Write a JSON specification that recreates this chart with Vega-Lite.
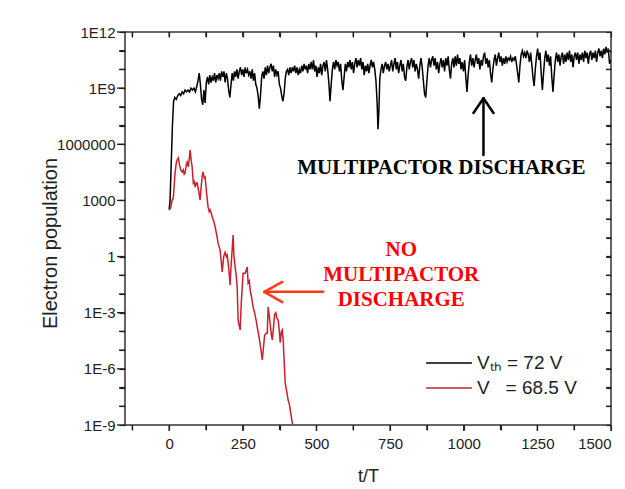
{
  "$schema": "https://vega.github.io/schema/vega-lite/v6.json",
  "width": 486,
  "height": 393,
  "autosize": {"type": "none"},
  "padding": {"left": 125, "top": 32, "right": 14, "bottom": 64},
  "background": "white",
  "config": {
    "font": "Liberation Sans",
    "view": {"stroke": "#333333", "strokeWidth": 1.5},
    "axis": {"domain": false, "grid": false, "ticks": true, "tickColor": "#333333", "tickOpacity": 1, "tickWidth": 1.2, "zindex": 2, "labelColor": "#222222", "labelFontSize": 15, "titleColor": "#222222", "titleFontWeight": "normal"}
  },
  "datasets": {
    "lines": [
      {"s":"th","t":0,"n":320},{"s":"th","t":3,"n":1000},{"s":"th","t":7,"n":1e5},{"s":"th","t":11,"n":1e7},{"s":"th","t":15,"n":2e8},{"s":"th","t":19,"n":3.2e8},{"s":"th","t":24,"n":2.5e8},{"s":"th","t":29,"n":4e8},{"s":"th","t":34,"n":5e8},{"s":"th","t":39,"n":4e8},{"s":"th","t":44,"n":6.3e8},{"s":"th","t":49,"n":5e8},{"s":"th","t":54,"n":7.9e8},{"s":"th","t":59,"n":6.3e8},{"s":"th","t":64,"n":7.9e8},{"s":"th","t":69,"n":6.3e8},{"s":"th","t":74,"n":1e9},{"s":"th","t":79,"n":7.9e8},{"s":"th","t":84,"n":1e9},{"s":"th","t":89,"n":6.3e8},{"s":"th","t":94,"n":1.3e9},{"s":"th","t":98,"n":2.5e9},
      {"s":"th","t":102,"n":6.3e9},{"s":"th","t":106,"n":1.6e9},{"s":"th","t":110,"n":2.5e8},{"s":"th","t":114,"n":1.3e8},{"s":"th","t":118,"n":7.9e8},{"s":"th","t":122,"n":1.6e8},{"s":"th","t":126,"n":2e9},{"s":"th","t":130,"n":4e9},{"s":"th","t":134,"n":1.6e9},{"s":"th","t":138,"n":5e9},{"s":"th","t":142,"n":2e9},{"s":"th","t":146,"n":4e9},{"s":"th","t":150,"n":2.5e9},{"s":"th","t":154,"n":6.3e9},{"s":"th","t":158,"n":2e9},{"s":"th","t":162,"n":5e9},{"s":"th","t":166,"n":3.2e9},{"s":"th","t":170,"n":6.3e9},{"s":"th","t":174,"n":2.5e9},{"s":"th","t":178,"n":7.9e9},{"s":"th","t":182,"n":4e9},{"s":"th","t":186,"n":7.9e9},{"s":"th","t":190,"n":2e9},{"s":"th","t":194,"n":6.3e9},{"s":"th","t":198,"n":3.2e9},
      {"s":"th","t":202,"n":7.9e8},{"s":"th","t":206,"n":3.2e8},{"s":"th","t":210,"n":1.6e9},{"s":"th","t":214,"n":6.3e9},{"s":"th","t":218,"n":2.5e9},{"s":"th","t":222,"n":7.9e9},{"s":"th","t":226,"n":4e9},{"s":"th","t":230,"n":1e10},{"s":"th","t":234,"n":3.2e9},{"s":"th","t":238,"n":7.9e9},{"s":"th","t":242,"n":1.3e10},{"s":"th","t":246,"n":5e9},{"s":"th","t":250,"n":1e10},{"s":"th","t":254,"n":4e9},{"s":"th","t":258,"n":1.3e10},{"s":"th","t":262,"n":6.3e9},{"s":"th","t":266,"n":1e10},{"s":"th","t":270,"n":5e9},{"s":"th","t":274,"n":7.9e9},{"s":"th","t":278,"n":3.2e9},{"s":"th","t":282,"n":1e10},{"s":"th","t":286,"n":2.5e9},{"s":"th","t":290,"n":6.3e9},{"s":"th","t":294,"n":1.6e9},{"s":"th","t":298,"n":1e9},
      {"s":"th","t":302,"n":4e8},{"s":"th","t":306,"n":7.9e7},{"s":"th","t":310,"n":4e8},{"s":"th","t":314,"n":4e9},{"s":"th","t":318,"n":7.9e9},{"s":"th","t":322,"n":3.2e9},{"s":"th","t":326,"n":1.3e10},{"s":"th","t":330,"n":5e9},{"s":"th","t":334,"n":1.6e10},{"s":"th","t":338,"n":6.3e9},{"s":"th","t":342,"n":1.3e10},{"s":"th","t":346,"n":2e10},{"s":"th","t":350,"n":7.9e9},{"s":"th","t":354,"n":1.6e10},{"s":"th","t":358,"n":4e9},{"s":"th","t":362,"n":1e10},{"s":"th","t":366,"n":5e9},{"s":"th","t":370,"n":7.9e9},{"s":"th","t":374,"n":1.6e9},{"s":"th","t":378,"n":1e9},{"s":"th","t":382,"n":4e8},{"s":"th","t":386,"n":2e8},{"s":"th","t":390,"n":5e8},{"s":"th","t":394,"n":3.2e9},{"s":"th","t":398,"n":7.9e9},
      {"s":"th","t":402,"n":1e10},{"s":"th","t":406,"n":5e9},{"s":"th","t":410,"n":1.3e10},{"s":"th","t":414,"n":6.3e9},{"s":"th","t":418,"n":1.3e10},{"s":"th","t":422,"n":7.9e9},{"s":"th","t":426,"n":1.6e10},{"s":"th","t":430,"n":6.3e9},{"s":"th","t":434,"n":1.3e10},{"s":"th","t":438,"n":5e9},{"s":"th","t":442,"n":1e10},{"s":"th","t":446,"n":6.3e9},{"s":"th","t":450,"n":1.6e10},{"s":"th","t":454,"n":7.9e9},{"s":"th","t":458,"n":2e10},{"s":"th","t":462,"n":1e10},{"s":"th","t":466,"n":1.6e10},{"s":"th","t":470,"n":6.3e9},{"s":"th","t":474,"n":2e10},{"s":"th","t":478,"n":1e10},{"s":"th","t":482,"n":2.5e10},{"s":"th","t":486,"n":1e10},{"s":"th","t":490,"n":3.2e10},{"s":"th","t":494,"n":7.9e9},{"s":"th","t":498,"n":1.6e10},
      {"s":"th","t":502,"n":4e9},{"s":"th","t":506,"n":1.3e10},{"s":"th","t":510,"n":6.3e9},{"s":"th","t":514,"n":2e10},{"s":"th","t":518,"n":5e9},{"s":"th","t":522,"n":1.6e10},{"s":"th","t":526,"n":2.5e10},{"s":"th","t":530,"n":7.9e9},{"s":"th","t":534,"n":3.2e10},{"s":"th","t":538,"n":1e10},{"s":"th","t":542,"n":2e9},{"s":"th","t":546,"n":2e8},{"s":"th","t":550,"n":1.6e9},{"s":"th","t":554,"n":1e10},{"s":"th","t":558,"n":2.5e10},{"s":"th","t":562,"n":1e10},{"s":"th","t":566,"n":3.2e10},{"s":"th","t":570,"n":1.6e10},{"s":"th","t":574,"n":2.5e10},{"s":"th","t":578,"n":7.9e9},{"s":"th","t":582,"n":2e10},{"s":"th","t":586,"n":2.5e9},{"s":"th","t":590,"n":7.9e8},{"s":"th","t":594,"n":4e9},{"s":"th","t":598,"n":2e10},
      {"s":"th","t":602,"n":7.9e9},{"s":"th","t":606,"n":2.5e10},{"s":"th","t":610,"n":1.3e10},{"s":"th","t":614,"n":3.2e10},{"s":"th","t":618,"n":1e10},{"s":"th","t":622,"n":2.5e10},{"s":"th","t":626,"n":6.3e9},{"s":"th","t":630,"n":2e10},{"s":"th","t":634,"n":4e10},{"s":"th","t":638,"n":1.3e10},{"s":"th","t":642,"n":3.2e10},{"s":"th","t":646,"n":1.6e10},{"s":"th","t":650,"n":4e10},{"s":"th","t":654,"n":1e10},{"s":"th","t":658,"n":2.5e10},{"s":"th","t":662,"n":5e9},{"s":"th","t":666,"n":1.6e10},{"s":"th","t":670,"n":7.9e9},{"s":"th","t":674,"n":2e10},{"s":"th","t":678,"n":6.3e9},{"s":"th","t":682,"n":1.6e10},{"s":"th","t":686,"n":3.2e10},{"s":"th","t":690,"n":1.3e10},{"s":"th","t":694,"n":2.5e10},{"s":"th","t":698,"n":1e10},
      {"s":"th","t":702,"n":2.5e9},{"s":"th","t":706,"n":1.6e8},{"s":"th","t":709,"n":6.3e6},{"s":"th","t":712,"n":6.3e7},{"s":"th","t":715,"n":3.2e9},{"s":"th","t":719,"n":1e10},{"s":"th","t":723,"n":2e10},{"s":"th","t":727,"n":6.3e9},{"s":"th","t":731,"n":1.6e10},{"s":"th","t":735,"n":2.5e10},{"s":"th","t":739,"n":1e10},{"s":"th","t":743,"n":2e10},{"s":"th","t":747,"n":7.9e9},{"s":"th","t":751,"n":1.6e10},{"s":"th","t":755,"n":3.2e10},{"s":"th","t":759,"n":7.9e9},{"s":"th","t":763,"n":2e10},{"s":"th","t":767,"n":4e10},{"s":"th","t":771,"n":1e10},{"s":"th","t":775,"n":2.5e10},{"s":"th","t":779,"n":6.3e9},{"s":"th","t":783,"n":1.6e10},{"s":"th","t":787,"n":3.2e10},{"s":"th","t":791,"n":7.9e9},{"s":"th","t":795,"n":2e10},{"s":"th","t":799,"n":4e9},
      {"s":"th","t":803,"n":2.5e9},{"s":"th","t":807,"n":1.3e10},{"s":"th","t":811,"n":3.2e10},{"s":"th","t":815,"n":1e10},{"s":"th","t":819,"n":2.5e10},{"s":"th","t":823,"n":4e10},{"s":"th","t":827,"n":1.3e10},{"s":"th","t":831,"n":3.2e10},{"s":"th","t":835,"n":7.9e9},{"s":"th","t":839,"n":2e10},{"s":"th","t":843,"n":1e10},{"s":"th","t":847,"n":3.2e9},{"s":"th","t":851,"n":1.6e10},{"s":"th","t":855,"n":4e10},{"s":"th","t":859,"n":1.3e10},{"s":"th","t":863,"n":2.5e9},{"s":"th","t":867,"n":5e8},{"s":"th","t":871,"n":3.2e8},{"s":"th","t":875,"n":2.5e9},{"s":"th","t":879,"n":1.6e10},{"s":"th","t":883,"n":4e10},{"s":"th","t":887,"n":1.3e10},{"s":"th","t":891,"n":3.2e10},{"s":"th","t":895,"n":5e10},{"s":"th","t":899,"n":1.6e10},
      {"s":"th","t":903,"n":4e10},{"s":"th","t":907,"n":1e10},{"s":"th","t":911,"n":2.5e10},{"s":"th","t":915,"n":6.3e9},{"s":"th","t":919,"n":2e10},{"s":"th","t":923,"n":4e10},{"s":"th","t":927,"n":1.3e10},{"s":"th","t":931,"n":3.2e10},{"s":"th","t":935,"n":7.9e9},{"s":"th","t":939,"n":4e10},{"s":"th","t":943,"n":1.6e10},{"s":"th","t":947,"n":5e10},{"s":"th","t":951,"n":1e10},{"s":"th","t":955,"n":3.2e9},{"s":"th","t":959,"n":2e10},{"s":"th","t":963,"n":4e10},{"s":"th","t":967,"n":1.3e10},{"s":"th","t":971,"n":5e10},{"s":"th","t":975,"n":1.6e10},{"s":"th","t":979,"n":6.3e10},{"s":"th","t":983,"n":2e10},{"s":"th","t":987,"n":4e10},{"s":"th","t":991,"n":1e10},{"s":"th","t":995,"n":2.5e10},{"s":"th","t":999,"n":7.9e9},
      {"s":"th","t":1003,"n":3.2e10},{"s":"th","t":1007,"n":4e9},{"s":"th","t":1011,"n":6.3e8},{"s":"th","t":1015,"n":5e9},{"s":"th","t":1019,"n":2.5e10},{"s":"th","t":1023,"n":6.3e10},{"s":"th","t":1027,"n":1.6e10},{"s":"th","t":1031,"n":4e10},{"s":"th","t":1035,"n":1.3e10},{"s":"th","t":1039,"n":3.2e10},{"s":"th","t":1043,"n":6.3e10},{"s":"th","t":1047,"n":2e10},{"s":"th","t":1051,"n":4e10},{"s":"th","t":1055,"n":1e10},{"s":"th","t":1059,"n":3.2e10},{"s":"th","t":1063,"n":1.6e10},{"s":"th","t":1067,"n":5e10},{"s":"th","t":1071,"n":7.9e10},{"s":"th","t":1075,"n":2e10},{"s":"th","t":1079,"n":4e10},{"s":"th","t":1083,"n":1.3e10},{"s":"th","t":1087,"n":3.2e10},{"s":"th","t":1091,"n":6.3e9},{"s":"th","t":1095,"n":2e9},{"s":"th","t":1099,"n":1e10},
      {"s":"th","t":1103,"n":3.2e10},{"s":"th","t":1107,"n":6.3e10},{"s":"th","t":1111,"n":1.6e10},{"s":"th","t":1115,"n":4e10},{"s":"th","t":1119,"n":7.9e10},{"s":"th","t":1123,"n":2.5e10},{"s":"th","t":1127,"n":5e10},{"s":"th","t":1131,"n":1.6e10},{"s":"th","t":1135,"n":4e10},{"s":"th","t":1139,"n":2e10},{"s":"th","t":1143,"n":5e10},{"s":"th","t":1147,"n":2.5e10},{"s":"th","t":1151,"n":4e10},{"s":"th","t":1155,"n":3.2e10},{"s":"th","t":1159,"n":5e10},{"s":"th","t":1163,"n":2.5e10},{"s":"th","t":1167,"n":4e10},{"s":"th","t":1171,"n":3.2e10},{"s":"th","t":1175,"n":5e10},{"s":"th","t":1179,"n":2e10},{"s":"th","t":1183,"n":6.3e9},{"s":"th","t":1187,"n":2e9},{"s":"th","t":1191,"n":1.6e10},{"s":"th","t":1195,"n":6.3e10},{"s":"th","t":1199,"n":1e11},
      {"s":"th","t":1203,"n":5e10},{"s":"th","t":1207,"n":7.9e10},{"s":"th","t":1211,"n":4e10},{"s":"th","t":1215,"n":1e11},{"s":"th","t":1219,"n":6.3e10},{"s":"th","t":1223,"n":2.5e10},{"s":"th","t":1227,"n":7.9e10},{"s":"th","t":1231,"n":2e10},{"s":"th","t":1235,"n":4e9},{"s":"th","t":1239,"n":1.3e9},{"s":"th","t":1243,"n":1e10},{"s":"th","t":1247,"n":5e10},{"s":"th","t":1251,"n":1.3e11},{"s":"th","t":1255,"n":3.2e10},{"s":"th","t":1259,"n":7.9e10},{"s":"th","t":1263,"n":6.3e9},{"s":"th","t":1267,"n":7.9e8},{"s":"th","t":1271,"n":6.3e9},{"s":"th","t":1275,"n":4e10},{"s":"th","t":1279,"n":1e11},{"s":"th","t":1283,"n":2.5e10},{"s":"th","t":1287,"n":6.3e10},{"s":"th","t":1291,"n":1.6e10},{"s":"th","t":1295,"n":5e10},{"s":"th","t":1299,"n":4e9},
      {"s":"th","t":1303,"n":6.3e8},{"s":"th","t":1307,"n":5e9},{"s":"th","t":1311,"n":3.2e10},{"s":"th","t":1315,"n":7.9e10},{"s":"th","t":1319,"n":2.5e10},{"s":"th","t":1323,"n":6.3e10},{"s":"th","t":1327,"n":1.6e10},{"s":"th","t":1331,"n":5e10},{"s":"th","t":1335,"n":7.9e10},{"s":"th","t":1339,"n":2e10},{"s":"th","t":1343,"n":6.3e10},{"s":"th","t":1347,"n":2.5e10},{"s":"th","t":1351,"n":7.9e10},{"s":"th","t":1355,"n":3.2e10},{"s":"th","t":1359,"n":1e11},{"s":"th","t":1363,"n":2.5e10},{"s":"th","t":1367,"n":6.3e10},{"s":"th","t":1371,"n":1.3e10},{"s":"th","t":1375,"n":5e10},{"s":"th","t":1379,"n":7.9e10},{"s":"th","t":1383,"n":3.2e10},{"s":"th","t":1387,"n":7.9e10},{"s":"th","t":1391,"n":2e10},{"s":"th","t":1395,"n":6.3e10},{"s":"th","t":1399,"n":3.2e10},
      {"s":"th","t":1403,"n":7.9e10},{"s":"th","t":1407,"n":2.5e10},{"s":"th","t":1411,"n":1e11},{"s":"th","t":1415,"n":4e10},{"s":"th","t":1419,"n":7.9e10},{"s":"th","t":1423,"n":2e10},{"s":"th","t":1427,"n":6.3e10},{"s":"th","t":1431,"n":1e11},{"s":"th","t":1435,"n":3.2e10},{"s":"th","t":1439,"n":7.9e10},{"s":"th","t":1443,"n":4e10},{"s":"th","t":1447,"n":1e11},{"s":"th","t":1451,"n":2.5e10},{"s":"th","t":1455,"n":7.9e10},{"s":"th","t":1459,"n":1.3e11},{"s":"th","t":1463,"n":5e10},{"s":"th","t":1467,"n":1e11},{"s":"th","t":1471,"n":4e10},{"s":"th","t":1475,"n":1.3e11},{"s":"th","t":1479,"n":6.3e10},{"s":"th","t":1483,"n":1.6e11},{"s":"th","t":1487,"n":7.9e10},{"s":"th","t":1491,"n":1.3e11},{"s":"th","t":1495,"n":2e10},{"s":"th","t":1499,"n":3.2e10},
      {"s":"v","t":0,"n":310},{"s":"v","t":5,"n":400},{"s":"v","t":10,"n":1050},{"s":"v","t":14,"n":1350},{"s":"v","t":17,"n":6300},{"s":"v","t":20,"n":29000},{"s":"v","t":24,"n":100000},{"s":"v","t":27,"n":145000},{"s":"v","t":31,"n":186000},{"s":"v","t":35,"n":79000},{"s":"v","t":40,"n":40000},{"s":"v","t":44,"n":33000},{"s":"v","t":48,"n":43000},{"s":"v","t":51,"n":25000},{"s":"v","t":54,"n":29000},{"s":"v","t":58,"n":79000},{"s":"v","t":61,"n":112000},{"s":"v","t":65,"n":62000},{"s":"v","t":68,"n":158000},{"s":"v","t":71,"n":490000},{"s":"v","t":75,"n":126000},{"s":"v","t":78,"n":62000},{"s":"v","t":82,"n":8500},{"s":"v","t":85,"n":10000},{"s":"v","t":88,"n":5200},{"s":"v","t":92,"n":8900},{"s":"v","t":95,"n":8500},
      {"s":"v","t":100,"n":3200},{"s":"v","t":105,"n":1050},{"s":"v","t":108,"n":4000},{"s":"v","t":112,"n":20000},{"s":"v","t":115,"n":33000},{"s":"v","t":119,"n":16000},{"s":"v","t":122,"n":18000},{"s":"v","t":127,"n":2500},{"s":"v","t":132,"n":450},{"s":"v","t":136,"n":250},{"s":"v","t":139,"n":310},{"s":"v","t":143,"n":200},{"s":"v","t":146,"n":130},{"s":"v","t":151,"n":79},{"s":"v","t":156,"n":38},{"s":"v","t":161,"n":16},{"s":"v","t":166,"n":5.2},{"s":"v","t":170,"n":3.2},{"s":"v","t":173,"n":2.2},{"s":"v","t":177,"n":0.5},{"s":"v","t":180,"n":0.15},{"s":"v","t":185,"n":1},{"s":"v","t":190,"n":1.7},{"s":"v","t":194,"n":1},{"s":"v","t":197,"n":1.2},
      {"s":"v","t":202,"n":0.25},{"s":"v","t":207,"n":0.03},{"s":"v","t":210,"n":0.32},{"s":"v","t":214,"n":2.5},{"s":"v","t":217,"n":14},{"s":"v","t":220,"n":1},{"s":"v","t":224,"n":0.28},{"s":"v","t":228,"n":0.08},{"s":"v","t":231,"n":0.023},{"s":"v","t":234,"n":0.00041},{"s":"v","t":238,"n":0.0002},{"s":"v","t":241,"n":0.00012},{"s":"v","t":245,"n":0.004},{"s":"v","t":251,"n":0.13},{"s":"v","t":258,"n":0.13},{"s":"v","t":262,"n":0.2},{"s":"v","t":265,"n":0.28},{"s":"v","t":268,"n":0.039},{"s":"v","t":272,"n":0.05},{"s":"v","t":275,"n":0.016},{"s":"v","t":280,"n":0.0063},{"s":"v","t":285,"n":0.002},{"s":"v","t":290,"n":0.001},{"s":"v","t":295,"n":0.0004},{"s":"v","t":299,"n":0.00017},
      {"s":"v","t":304,"n":6.3e-5},{"s":"v","t":308,"n":2.5e-5},{"s":"v","t":312,"n":1e-5},{"s":"v","t":316,"n":3e-6},{"s":"v","t":320,"n":1.3e-5},{"s":"v","t":324,"n":6.3e-5},{"s":"v","t":329,"n":8e-5},{"s":"v","t":333,"n":8e-5},{"s":"v","t":336,"n":0.002},{"s":"v","t":340,"n":0.00063},{"s":"v","t":343,"n":0.00025},{"s":"v","t":347,"n":6.3e-5},{"s":"v","t":350,"n":3.5e-5},{"s":"v","t":354,"n":0.00016},{"s":"v","t":358,"n":0.0008},{"s":"v","t":362,"n":0.001},{"s":"v","t":366,"n":0.0005},{"s":"v","t":370,"n":0.0004},{"s":"v","t":374,"n":0.0001},{"s":"v","t":377,"n":2.5e-5},{"s":"v","t":381,"n":0.0001},{"s":"v","t":384,"n":0.00012},{"s":"v","t":387,"n":3.5e-5},{"s":"v","t":391,"n":1.6e-6},{"s":"v","t":394,"n":1.7e-7},{"s":"v","t":399,"n":6.3e-8},{"s":"v","t":404,"n":2.1e-8},{"s":"v","t":408,"n":1.3e-8},{"s":"v","t":411,"n":6.3e-9},{"s":"v","t":414,"n":3.2e-9},{"s":"v","t":418,"n":1.3e-9},{"s":"v","t":422,"n":5e-10}
    ],
    "ticks": [
      {"t":-125,"n":1e-9,"t2":-125,"n2":5.4e-10},{"t":0,"n":1e-9,"t2":0,"n2":4.8e-10},{"t":125,"n":1e-9,"t2":125,"n2":5.4e-10},{"t":250,"n":1e-9,"t2":250,"n2":4.8e-10},{"t":375,"n":1e-9,"t2":375,"n2":5.4e-10},{"t":500,"n":1e-9,"t2":500,"n2":4.8e-10},{"t":625,"n":1e-9,"t2":625,"n2":5.4e-10},{"t":750,"n":1e-9,"t2":750,"n2":4.8e-10},{"t":875,"n":1e-9,"t2":875,"n2":5.4e-10},{"t":1000,"n":1e-9,"t2":1000,"n2":4.8e-10},{"t":1125,"n":1e-9,"t2":1125,"n2":5.4e-10},{"t":1250,"n":1e-9,"t2":1250,"n2":4.8e-10},{"t":1375,"n":1e-9,"t2":1375,"n2":5.4e-10},{"t":1500,"n":1e-9,"t2":1500,"n2":4.8e-10},
      {"t":-150,"n":1e-9,"t2":-177,"n2":1e-9},{"t":-150,"n":1e-8,"t2":-170,"n2":1e-8},{"t":-150,"n":1e-7,"t2":-170,"n2":1e-7},{"t":-150,"n":1e-6,"t2":-177,"n2":1e-6},{"t":-150,"n":1e-5,"t2":-170,"n2":1e-5},{"t":-150,"n":1e-4,"t2":-170,"n2":1e-4},{"t":-150,"n":0.001,"t2":-177,"n2":0.001},{"t":-150,"n":0.01,"t2":-170,"n2":0.01},{"t":-150,"n":0.1,"t2":-170,"n2":0.1},{"t":-150,"n":1,"t2":-177,"n2":1},{"t":-150,"n":10,"t2":-170,"n2":10},{"t":-150,"n":100,"t2":-170,"n2":100},{"t":-150,"n":1000,"t2":-177,"n2":1000},{"t":-150,"n":10000,"t2":-170,"n2":10000},{"t":-150,"n":100000,"t2":-170,"n2":100000},{"t":-150,"n":1e6,"t2":-177,"n2":1e6},{"t":-150,"n":1e7,"t2":-170,"n2":1e7},{"t":-150,"n":1e8,"t2":-170,"n2":1e8},{"t":-150,"n":1e9,"t2":-177,"n2":1e9},{"t":-150,"n":1e10,"t2":-170,"n2":1e10},{"t":-150,"n":1e11,"t2":-170,"n2":1e11},{"t":-150,"n":1e12,"t2":-177,"n2":1e12},
      {"t":-125,"n":1e12,"t2":-125,"n2":5.4e11},{"t":0,"n":1e12,"t2":0,"n2":5.4e11},{"t":125,"n":1e12,"t2":125,"n2":5.4e11},{"t":250,"n":1e12,"t2":250,"n2":5.4e11},{"t":375,"n":1e12,"t2":375,"n2":5.4e11},{"t":500,"n":1e12,"t2":500,"n2":5.4e11},{"t":625,"n":1e12,"t2":625,"n2":5.4e11},{"t":750,"n":1e12,"t2":750,"n2":5.4e11},{"t":875,"n":1e12,"t2":875,"n2":5.4e11},{"t":1000,"n":1e12,"t2":1000,"n2":5.4e11},{"t":1125,"n":1e12,"t2":1125,"n2":5.4e11},{"t":1250,"n":1e12,"t2":1250,"n2":5.4e11},{"t":1375,"n":1e12,"t2":1375,"n2":5.4e11},
      {"t":1500,"n":1e-8,"t2":1483,"n2":1e-8},{"t":1500,"n":1e-7,"t2":1483,"n2":1e-7},{"t":1500,"n":1e-6,"t2":1483,"n2":1e-6},{"t":1500,"n":1e-5,"t2":1483,"n2":1e-5},{"t":1500,"n":1e-4,"t2":1483,"n2":1e-4},{"t":1500,"n":0.001,"t2":1483,"n2":0.001},{"t":1500,"n":0.01,"t2":1483,"n2":0.01},{"t":1500,"n":0.1,"t2":1483,"n2":0.1},{"t":1500,"n":1,"t2":1483,"n2":1},{"t":1500,"n":10,"t2":1483,"n2":10},{"t":1500,"n":100,"t2":1483,"n2":100},{"t":1500,"n":1000,"t2":1483,"n2":1000},{"t":1500,"n":10000,"t2":1483,"n2":10000},{"t":1500,"n":100000,"t2":1483,"n2":100000},{"t":1500,"n":1e6,"t2":1483,"n2":1e6},{"t":1500,"n":1e7,"t2":1483,"n2":1e7},{"t":1500,"n":1e8,"t2":1483,"n2":1e8},{"t":1500,"n":1e9,"t2":1483,"n2":1e9},{"t":1500,"n":1e10,"t2":1483,"n2":1e10},{"t":1500,"n":1e11,"t2":1483,"n2":1e11}
    ],
    "arrows": [
      {"t":1067,"n":270000,"t2":1067,"n2":2.9e8,"c":"#000000"},
      {"t":1033,"n":4.7e7,"t2":1067,"n2":2.9e8,"c":"#000000"},
      {"t":1101,"n":4.7e7,"t2":1067,"n2":2.9e8,"c":"#000000"},
      {"t":523,"n":0.013,"t2":323,"n2":0.013,"c":"#ff3a1a"},
      {"t":384,"n":0.044,"t2":323,"n2":0.013,"c":"#ff3a1a"},
      {"t":384,"n":0.0037,"t2":323,"n2":0.013,"c":"#ff3a1a"}
    ],
    "notes": [
      {"t":924,"n":54000,"txt":"MULTIPACTOR DISCHARGE","c":"#000000"},
      {"t":788,"n":2.2,"txt":"NO","c":"#ff0000"},
      {"t":788,"n":0.1,"txt":"MULTIPACTOR","c":"#ff0000"},
      {"t":788,"n":0.0048,"txt":"DISCHARGE","c":"#ff0000"}
    ]
  },
  "layer": [
    {
      "data": {"name": "lines"},
      "mark": {"type": "line", "clip": true, "strokeWidth": 1.5, "interpolate": "linear"},
      "encoding": {
        "x": {"field": "t", "type": "quantitative", "scale": {"domain": [-150, 1500], "nice": false, "zero": false},
          "axis": {"orient": "bottom", "title": "t/T", "titleFontSize": 18, "titleBaseline": "middle", "titleY": 51,
            "values": [-125,0,125,250,375,500,625,750,875,1000,1125,1250,1375,1500], "format": "d",
            "labelExpr": "datum.value % 250 == 0 ? datum.label : ''", "labelPadding": 6,
            "ticks": true, "tickColor": "#222222", "tickSize": 5, "tickWidth": 1.2}},
        "y": {"field": "n", "type": "quantitative", "scale": {"type": "log", "domain": [1e-9, 1e12], "nice": false},
          "axis": {"orient": "left", "title": "Electron population", "titleFontSize": 20, "titleAngle": -90, "titleX": -75, "titleY": 211, "titleAlign": "center", "titleBaseline": "middle",
            "values": [1e-9,1e-8,1e-7,1e-6,1e-5,1e-4,0.001,0.01,0.1,1,10,100,1000,10000,100000,1000000,1e7,1e8,1e9,1e10,1e11,1e12],
            "labelExpr": "round(log(datum.value)/LN10) % 3 != 0 ? '' : (round(log(datum.value)/LN10) >= 9 || round(log(datum.value)/LN10) < 0) ? '1E' + round(log(datum.value)/LN10) : format(datum.value, 'd')",
            "labelPadding": 4,
            "ticks": true, "tickColor": "#222222", "tickSize": 6, "tickWidth": 1.2}},
        "color": {"field": "s", "type": "nominal",
          "scale": {"domain": ["th", "v"], "range": ["#000000", "#c8202f"]},
          "legend": {"orient": "none", "legendX": 300, "legendY": 321, "title": null, "symbolType": "stroke", "symbolSize": 2100, "symbolStrokeWidth": 1.5,
            "clipHeight": 20, "rowPadding": 5,
            "labelFont": "Liberation Sans", "labelFontSize": 19, "labelColor": "#222222", "labelOffset": 4, "padding": 0,
            "labelExpr": "datum.label == 'th' ? 'Vₜₕ = 72 V' : 'V\u00a0\u00a0\u00a0= 68.5 V'"}}
      }
    },
    {
      "data": {"name": "arrows"},
      "mark": {"type": "rule", "strokeWidth": 2.5, "strokeCap": "round"},
      "encoding": {
        "x": {"field": "t", "type": "quantitative",
          "axis": {"orient": "top", "title": null, "labels": false, "offset": -5, "values": [-125,0,125,250,375,500,625,750,875,1000,1125,1250,1375,1500],
            "ticks": true, "tickColor": "#222222", "tickSize": 5, "tickWidth": 1.2}},
        "y": {"field": "n", "type": "quantitative",
          "axis": {"orient": "right", "title": null, "labels": false, "offset": -5, "values": [1e-9,1e-8,1e-7,1e-6,1e-5,1e-4,0.001,0.01,0.1,1,10,100,1000,10000,100000,1000000,1e7,1e8,1e9,1e10,1e11,1e12],
            "ticks": true, "tickColor": "#222222", "tickSize": 5, "tickWidth": 1.2}},
        "x2": {"field": "t2"},
        "y2": {"field": "n2"},
        "color": {"field": "c", "type": "nominal", "scale": null}
      }
    },
    {
      "data": {"name": "ticks"},
      "mark": {"type": "rule", "color": "#222222", "strokeWidth": 1.4},
      "encoding": {
        "x": {"field": "t", "type": "quantitative", "axis": null},
        "y": {"field": "n", "type": "quantitative", "axis": null},
        "x2": {"field": "t2"},
        "y2": {"field": "n2"}
      }
    },
    {
      "data": {"name": "notes"},
      "mark": {"type": "text", "font": "Liberation Serif", "fontWeight": "bold", "fontSize": 21, "align": "center", "baseline": "middle"},
      "encoding": {
        "x": {"field": "t", "type": "quantitative", "axis": null},
        "y": {"field": "n", "type": "quantitative", "axis": null},
        "text": {"field": "txt"},
        "color": {"field": "c", "type": "nominal", "scale": null}
      }
    }
  ],
  "resolve": {"axis": {"x": "independent", "y": "independent"}}
}
